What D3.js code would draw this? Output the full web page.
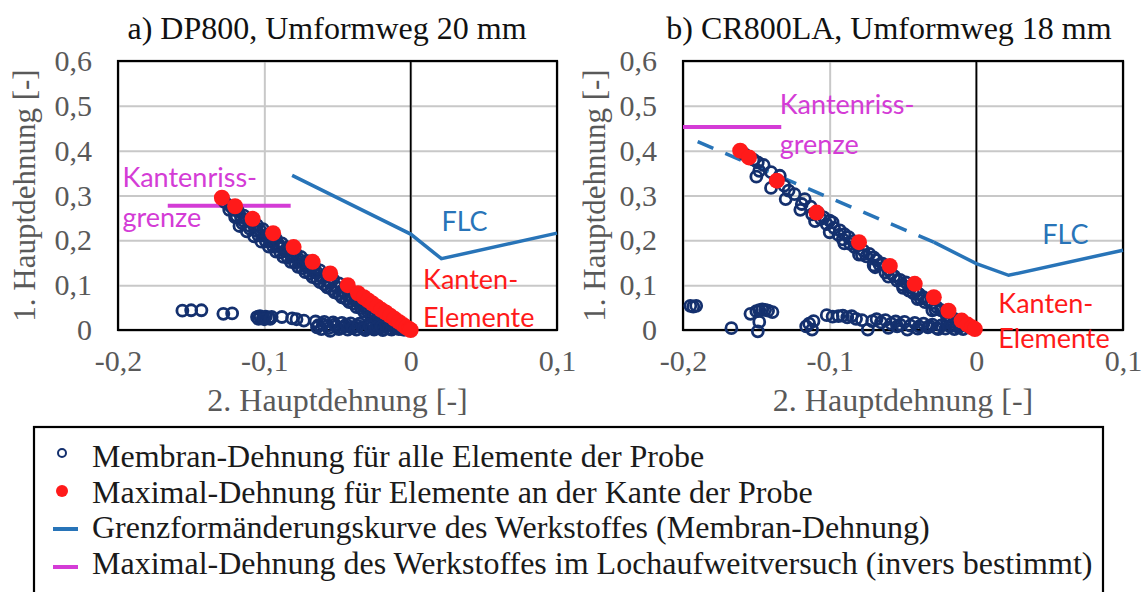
<!DOCTYPE html>
<html>
<head>
<meta charset="utf-8">
<script src="https://cdn.jsdelivr.net/npm/d3@7"></script>
<style>
  body { margin: 0; background: #fff; }
  svg { display: block; }
  .serif { font-family: "Liberation Serif", "Times New Roman", Times, "DejaVu Serif", serif; }
  .sans { font-family: Lato, "Open Sans", sans-serif; }
</style>
</head>
<body>
<div id="chart"></div>
<script>
// axis setup
const xDomain = [-0.2, 0.1]
const yDomain = [0, 0.6]
const xTicks = [-0.2, -0.1, 0, 0.1]
const yTicks = [0, 0.1, 0.2, 0.3, 0.4, 0.5, 0.6]

const titles = ["a) DP800, Umformweg 20 mm", "b) CR800LA, Umformweg 18 mm"]
const xTitle = "2. Hauptdehnung [-]"
const yTitle = "1. Hauptdehnung [-]"

// a) DP800 - membrane strain, all elements
const membraneA = [
  [-0.127,0.285],[-0.123,0.276],[-0.118,0.265],[-0.114,0.255],[-0.110,0.245],[-0.105,0.234],
  [-0.101,0.225],[-0.097,0.214],[-0.092,0.203],[-0.088,0.193],[-0.084,0.184],[-0.079,0.173],
  [-0.075,0.163],[-0.071,0.154],[-0.066,0.143],[-0.062,0.133],[-0.058,0.124],[-0.053,0.113],
  [-0.049,0.104],[-0.045,0.094],[-0.040,0.084],[-0.036,0.075],[-0.032,0.066],[-0.027,0.056],
  [-0.023,0.047],[-0.019,0.038],[-0.014,0.029],[-0.010,0.020],[-0.006,0.012],[-0.002,0.004],
  [-0.124,0.268],[-0.119,0.254],[-0.114,0.243],[-0.110,0.232],[-0.105,0.221],[-0.100,0.210],
  [-0.096,0.198],[-0.091,0.187],[-0.086,0.176],[-0.081,0.164],[-0.076,0.152],[-0.071,0.141],
  [-0.066,0.129],[-0.061,0.118],[-0.056,0.107],[-0.051,0.096],[-0.046,0.085],[-0.041,0.074],
  [-0.036,0.064],[-0.031,0.053],[-0.026,0.043],[-0.021,0.034],[-0.016,0.025],[-0.011,0.016],
  [-0.120,0.252],[-0.115,0.238],[-0.110,0.226],[-0.104,0.211],[-0.099,0.198],[-0.094,0.186],
  [-0.089,0.173],[-0.084,0.161],[-0.079,0.150],[-0.074,0.138],[-0.069,0.126],[-0.064,0.114],
  [-0.059,0.102],[-0.054,0.091],[-0.049,0.080],[-0.044,0.069],[-0.039,0.059],[-0.034,0.049],
  [-0.029,0.040],[-0.024,0.031],[-0.019,0.022],[-0.014,0.014],[-0.009,0.008],[-0.005,0.003],
  [-0.121,0.268],[-0.116,0.252],[-0.112,0.246],[-0.107,0.232],[-0.103,0.223],[-0.098,0.211],
  [-0.094,0.200],[-0.090,0.190],[-0.085,0.178],[-0.081,0.170],[-0.077,0.160],[-0.073,0.149],
  [-0.068,0.137],[-0.064,0.128],[-0.060,0.118],[-0.055,0.106],[-0.051,0.097],[-0.047,0.087],
  [-0.042,0.076],[-0.038,0.067],[-0.034,0.058],[-0.030,0.049],[-0.025,0.038],[-0.021,0.029],
  [-0.017,0.020],[-0.012,0.011],[-0.008,0.005],[-0.004,0.001],
  [-0.117,0.232],[-0.112,0.220],[-0.107,0.209],[-0.102,0.197],[-0.097,0.186],[-0.092,0.175],
  [-0.087,0.163],[-0.082,0.152],[-0.077,0.141],[-0.072,0.129],[-0.067,0.118],[-0.062,0.107],
  [-0.057,0.095],[-0.052,0.084],[-0.047,0.073],[-0.042,0.062],[-0.037,0.051],[-0.032,0.041],
  [-0.027,0.031],[-0.022,0.022],
  [-0.156,0.043],[-0.150,0.044],[-0.143,0.044],[-0.128,0.036],[-0.122,0.037],
  [-0.105,0.029],[-0.103,0.031],[-0.101,0.027],[-0.099,0.030],[-0.097,0.027],[-0.095,0.029],
  [-0.104,0.025],[-0.100,0.024],[-0.096,0.025],
  [-0.088,0.029],[-0.081,0.026],[-0.078,0.024],[-0.073,0.021],
  [-0.065,0.019],[-0.063,0.011],[-0.061,0.002],[-0.059,0.018],[-0.057,0.009],[-0.055,-0.002],
  [-0.053,0.017],[-0.051,0.008],[-0.049,0.002],[-0.047,0.016],[-0.045,0.008],[-0.043,0.001],
  [-0.041,0.015],[-0.039,0.007],[-0.037,0.001],[-0.035,0.014],[-0.033,0.006],[-0.031,0.000],
  [-0.029,0.012],[-0.027,0.005],[-0.025,0.001],[-0.023,0.010],[-0.021,0.004],[-0.019,0.000],
  [-0.017,0.008],[-0.015,0.003],[-0.013,0.001],[-0.011,0.005],[-0.008,0.002],[-0.005,0.001],
  [-0.064,0.006],[-0.060,0.013],[-0.056,0.004],[-0.052,0.012],[-0.048,0.006],[-0.044,0.012],
  [-0.040,0.004],[-0.036,0.009],[-0.032,0.003],[-0.028,0.008],[-0.024,0.005],[-0.020,0.007]
]

// a) DP800 - max strain of edge elements
const edgeA = [
  [-0.129,0.295],[-0.120,0.276],[-0.108,0.248],[-0.094,0.216],[-0.080,0.185],[-0.067,0.152],
  [-0.055,0.126],[-0.043,0.100],[-0.036,0.082],[-0.032,0.073],[-0.029,0.066],[-0.026,0.059],
  [-0.023,0.052],[-0.020,0.045],[-0.017,0.039],[-0.014,0.032],[-0.011,0.025],[-0.008,0.018],
  [-0.005,0.011],[-0.003,0.006],[-0.001,0.002],[0.000,0.000]
]

const flcA = [[-0.081,0.345],[0,0.214],[0.021,0.159],[0.1,0.216]]
const limitA = [[-0.166,0.277],[-0.082,0.277]]

// b) CR800LA - membrane strain, all elements
const membraneB = [
  [-0.158,0.392],[-0.152,0.380],[-0.149,0.374],[-0.145,0.368],[-0.148,0.355],[-0.140,0.352],
  [-0.134,0.344],[-0.131,0.322],[-0.128,0.311],[-0.124,0.303],[-0.119,0.281],[-0.117,0.292],
  [-0.113,0.275],[-0.108,0.262],[-0.104,0.251],[-0.100,0.244],[-0.097,0.228],[-0.093,0.222],
  [-0.090,0.214],[-0.087,0.207],[-0.084,0.198],[-0.081,0.188],[-0.077,0.177],[-0.073,0.170],
  [-0.070,0.162],[-0.068,0.156],[-0.069,0.140],[-0.064,0.148],[-0.060,0.134],[-0.056,0.120],
  [-0.052,0.112],[-0.048,0.106],[-0.045,0.095],[-0.041,0.086],[-0.039,0.080],[-0.036,0.073],
  [-0.033,0.066],[-0.030,0.060],[-0.027,0.051],[-0.024,0.044],[-0.021,0.038],[-0.018,0.030],
  [-0.015,0.025],[-0.012,0.019],[-0.009,0.013],[-0.006,0.008],[-0.003,0.004],
  [-0.112,0.258],[-0.102,0.236],[-0.094,0.212],[-0.086,0.192],[-0.078,0.168],[-0.062,0.128],
  [-0.054,0.110],[-0.046,0.088],[-0.038,0.070],
  [-0.106,0.248],[-0.098,0.240],[-0.091,0.202],[-0.083,0.185],[-0.075,0.164],[-0.066,0.146],
  [-0.058,0.126],[-0.050,0.100],[-0.043,0.082],[-0.035,0.062],[-0.028,0.046],[-0.020,0.030],
  [-0.150,0.342],[-0.140,0.317],[-0.130,0.292],[-0.120,0.268],[-0.110,0.243],[-0.100,0.218],
  [-0.090,0.193],[-0.080,0.168],[-0.070,0.144],[-0.060,0.119],[-0.050,0.094],[-0.040,0.069],
  [-0.030,0.044],[-0.020,0.020],
  [-0.195,0.054],[-0.193,0.052],[-0.191,0.054],[-0.167,0.004],[-0.154,0.036],[-0.150,0.042],
  [-0.148,0.044],[-0.146,0.046],[-0.144,0.045],[-0.142,0.043],[-0.139,0.040],[-0.148,0.018],
  [-0.149,-0.003],[-0.116,0.008],[-0.114,0.014],[-0.112,0.001],[-0.111,0.020],[-0.102,0.033],
  [-0.098,0.030],[-0.094,0.031],[-0.091,0.032],[-0.088,0.028],[-0.085,0.031],[-0.082,0.025],
  [-0.078,0.022],[-0.074,0.001],[-0.071,0.020],[-0.068,0.024],[-0.065,0.017],[-0.062,0.022],
  [-0.058,0.014],[-0.055,0.019],[-0.052,0.012],[-0.049,0.018],[-0.047,0.001],[-0.045,0.010],
  [-0.042,0.016],[-0.039,0.008],[-0.036,0.014],[-0.033,0.006],[-0.030,0.012],[-0.027,0.004],
  [-0.024,0.010],[-0.021,0.003],[-0.018,0.008],[-0.015,0.002],[-0.012,0.006],[-0.009,0.002],
  [-0.060,0.005],[-0.054,0.008],[-0.040,0.003],[-0.032,0.009],[-0.026,0.002],[-0.016,0.010]
]

// b) CR800LA - max strain of edge elements
const edgeB = [
  [-0.161,0.400],[-0.155,0.385],[-0.136,0.333],[-0.109,0.262],[-0.080,0.196],[-0.059,0.143],
  [-0.042,0.103],[-0.029,0.073],[-0.019,0.043],[-0.010,0.021],[-0.006,0.012],[-0.003,0.006],
  [-0.001,0.002]
]

const flcDashB = [[-0.19,0.42],[-0.029,0.196]]
const flcB = [[-0.029,0.196],[0,0.148],[0.022,0.122],[0.1,0.178]]
const limitB = [[-0.2,0.453],[-0.133,0.453]]

const legendLabels = [
  "Membran-Dehnung für alle Elemente der Probe",
  "Maximal-Dehnung für Elemente an der Kante der Probe",
  "Grenzformänderungskurve des Werkstoffes (Membran-Dehnung)",
  "Maximal-Dehnung des Werkstoffes im Lochaufweitversuch (invers bestimmt)"
]

const width = 1145
const height = 592

const navy = "#14306e"
const red = "#ff1a1a"
const blue = "#2874b8"
const magenta = "#d43cd6"
const grey = "#595959"

const fmt = d3.formatLocale({decimal: ",", thousands: ".", grouping: [3], currency: ["", "€"], minus: "-"}).format(".1~f")

const svg = d3.select("#chart").append("svg")
    .attr("width", width)
    .attr("height", height)

const panels = [
  {title: titles[0], titleX: 327, left: 118, right: 557, yTitleX: 25,
   membrane: membraneA, edge: edgeA, flc: flcA, flcDash: null, limit: limitA,
   labels: [
     {t: "Kantenriss-", x: -0.197, y: 0.318, c: magenta},
     {t: "grenze", x: -0.197, y: 0.229, c: magenta},
     {t: "FLC", x: 0.021, y: 0.221, c: blue},
     {t: "Kanten-", x: 0.0085, y: 0.091, c: red},
     {t: "Elemente", x: 0.0085, y: 0.006, c: red}
   ]},
  {title: titles[1], titleX: 889, left: 683, right: 1123, yTitleX: 595,
   membrane: membraneB, edge: edgeB, flc: flcB, flcDash: flcDashB, limit: limitB,
   labels: [
     {t: "Kantenriss-", x: -0.134, y: 0.481, c: magenta},
     {t: "grenze", x: -0.134, y: 0.392, c: magenta},
     {t: "FLC", x: 0.045, y: 0.191, c: blue},
     {t: "Kanten-", x: 0.015, y: 0.037, c: red},
     {t: "Elemente", x: 0.015, y: -0.041, c: red}
   ]}
]

const plotTop = 61
const plotBottom = 330

panels.forEach(p => {
    const x = d3.scaleLinear().domain(xDomain).range([p.left, p.right])
    const y = d3.scaleLinear().domain(yDomain).range([plotBottom, plotTop])
    const g = svg.append("g")

    // grid
    g.append("g")
        .attr("transform", "translate(0," + plotBottom + ")")
        .call(d3.axisBottom(x).tickValues(xTicks).tickSize(-(plotBottom - plotTop)).tickFormat(""))
        .call(a => a.select(".domain").remove())
        .selectAll("line").attr("stroke", "#c8c8c8").attr("stroke-width", 2)
    g.append("g")
        .attr("transform", "translate(" + p.left + ",0)")
        .call(d3.axisLeft(y).tickValues(yTicks).tickSize(-(p.right - p.left)).tickFormat(""))
        .call(a => a.select(".domain").remove())
        .selectAll("line").attr("stroke", "#c8c8c8").attr("stroke-width", 2)

    // vertical line at 0
    g.append("line")
        .attr("x1", x(0)).attr("x2", x(0))
        .attr("y1", plotTop).attr("y2", plotBottom)
        .attr("stroke", "#000").attr("stroke-width", 1.8)

    g.append("rect")
        .attr("x", p.left).attr("y", plotTop)
        .attr("width", p.right - p.left).attr("height", plotBottom - plotTop)
        .attr("fill", "none").attr("stroke", "#000").attr("stroke-width", 2.2)

    const line = d3.line().x(d => x(d[0])).y(d => y(d[1]))

    g.append("path").datum(p.limit).attr("d", line)
        .attr("fill", "none").attr("stroke", magenta).attr("stroke-width", 4)

    if (p.flcDash) {
        g.append("path").datum(p.flcDash).attr("d", line)
            .attr("fill", "none").attr("stroke", blue).attr("stroke-width", 3.5)
            .attr("stroke-dasharray", "17,13")
    }
    g.append("path").datum(p.flc).attr("d", line)
        .attr("fill", "none").attr("stroke", blue).attr("stroke-width", 3.5)

    g.selectAll(".mem")
        .data(p.membrane)
        .enter()
        .append("circle")
        .attr("class", "mem")
        .attr("cx", d => x(d[0]))
        .attr("cy", d => y(d[1]))
        .attr("r", 5.5)
        .attr("fill", "none")
        .attr("stroke", navy)
        .attr("stroke-width", 2.8)

    g.selectAll(".edge")
        .data(p.edge)
        .enter()
        .append("circle")
        .attr("class", "edge")
        .attr("cx", d => x(d[0]))
        .attr("cy", d => y(d[1]))
        .attr("r", 8)
        .attr("fill", red)

    g.selectAll(".lbl")
        .data(p.labels)
        .enter()
        .append("text")
        .attr("class", "sans")
        .attr("x", d => x(d.x))
        .attr("y", d => y(d.y))
        .attr("fill", d => d.c)
        .style("font-size", "27px")
        .text(d => d.t)

    // tick labels
    g.append("g")
        .attr("transform", "translate(0," + plotBottom + ")")
        .call(d3.axisBottom(x).tickValues(xTicks).tickSize(0).tickPadding(20).tickFormat(fmt))
        .call(a => a.select(".domain").remove())
        .attr("font-family", null).attr("font-size", null)
        .selectAll("text")
        .attr("class", "serif")
        .attr("fill", grey)
        .style("font-size", "30px")
    g.append("g")
        .attr("transform", "translate(" + (p.left - 26) + ",0)")
        .call(d3.axisLeft(y).tickValues(yTicks).tickSize(0).tickPadding(0).tickFormat(fmt))
        .call(a => a.select(".domain").remove())
        .attr("font-family", null).attr("font-size", null)
        .selectAll("text")
        .attr("class", "serif")
        .attr("fill", grey)
        .style("font-size", "30px")

    g.append("text")
        .attr("class", "serif")
        .attr("x", (p.left + p.right) / 2)
        .attr("y", 411)
        .attr("text-anchor", "middle")
        .attr("fill", grey)
        .style("font-size", "32px")
        .text(xTitle)

    g.append("text")
        .attr("class", "serif")
        .attr("transform", "translate(" + (p.yTitleX + 10) + "," + ((plotTop + plotBottom) / 2) + ") rotate(-90)")
        .attr("text-anchor", "middle")
        .attr("fill", grey)
        .style("font-size", "31px")
        .text(yTitle)

    g.append("text")
        .attr("class", "serif")
        .attr("x", p.titleX)
        .attr("y", 39)
        .attr("text-anchor", "middle")
        .attr("fill", "#111")
        .style("font-size", "32px")
        .text(p.title)
})

// legend
const legend = svg.append("g")
legend.append("rect")
    .attr("x", 34).attr("y", 427)
    .attr("width", 1103 - 34).attr("height", 200)
    .attr("fill", "none").attr("stroke", "#000").attr("stroke-width", 2.2)

const markY = d3.scalePoint().domain(d3.range(legendLabels.length)).range([453, 567])
const textY = d3.scalePoint().domain(d3.range(legendLabels.length)).range([467, 574])

legend.append("circle").attr("cx", 62).attr("cy", markY(0)).attr("r", 4)
    .attr("fill", "none").attr("stroke", navy).attr("stroke-width", 2)
legend.append("circle").attr("cx", 62).attr("cy", markY(1)).attr("r", 6)
    .attr("fill", red)
legend.append("line").attr("x1", 53).attr("x2", 78).attr("y1", markY(2)).attr("y2", markY(2))
    .attr("stroke", blue).attr("stroke-width", 4)
legend.append("line").attr("x1", 53).attr("x2", 78).attr("y1", markY(3)).attr("y2", markY(3))
    .attr("stroke", magenta).attr("stroke-width", 4)

legend.selectAll(".leg")
    .data(legendLabels)
    .enter()
    .append("text")
    .attr("class", "serif")
    .attr("x", 92)
    .attr("y", (d, i) => textY(i))
    .attr("fill", "#1a1a1a")
    .style("font-size", "32px")
    .text(d => d)
</script>
</body>
</html>
